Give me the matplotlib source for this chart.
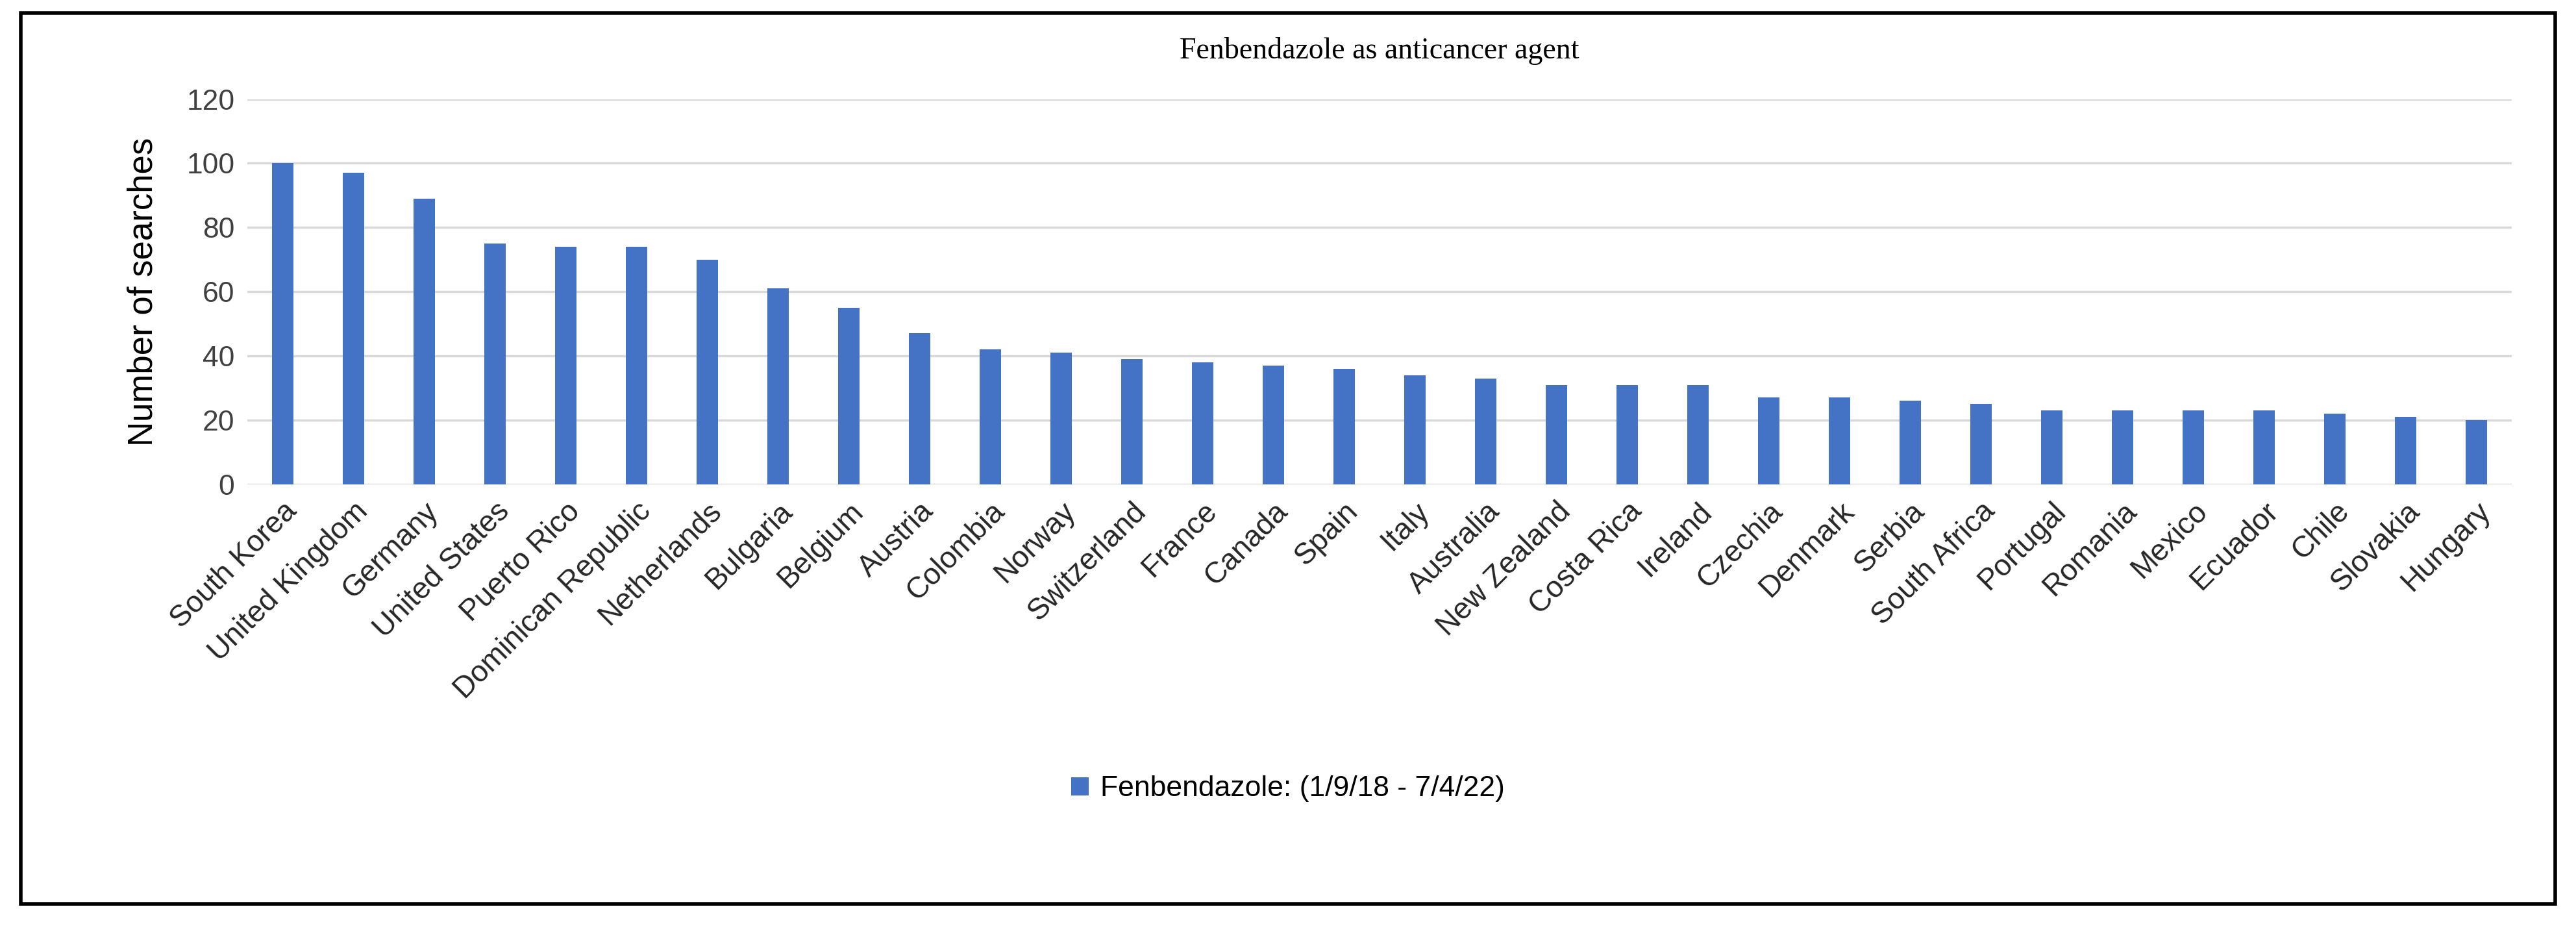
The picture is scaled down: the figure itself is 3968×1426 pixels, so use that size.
import numpy as np
import matplotlib.pyplot as plt
import matplotlib.patches as mpatches

countries = ["South Korea", "United Kingdom", "Germany", "United States", "Puerto Rico",
             "Dominican Republic", "Netherlands", "Bulgaria", "Belgium", "Austria",
             "Colombia", "Norway", "Switzerland", "France", "Canada", "Spain", "Italy",
             "Australia", "New Zealand", "Costa Rica", "Ireland", "Czechia", "Denmark",
             "Serbia", "South Africa", "Portugal", "Romania", "Mexico", "Ecuador",
             "Chile", "Slovakia", "Hungary"]
searches = [100, 97, 89, 75, 74, 74, 70, 61, 55, 47, 42, 41, 39, 38, 37, 36, 34,
            33, 31, 31, 31, 27, 27, 26, 25, 23, 23, 23, 23, 22, 21, 20]
yticks = [0, 20, 40, 60, 80, 100, 120]

BLUE = "#4472C4"
FONT = "Liberation Sans"

fig = plt.figure(figsize=(39.68, 14.26), dpi=100)
ax = fig.add_axes([0.096, 0.477, 0.879, 0.416])

x = np.arange(len(countries))
ax.bar(x, searches, width=0.3, color=BLUE, label="Fenbendazole: (1/9/18 - 7/4/22)", zorder=3)

ax.set_xlim(-0.5, len(countries) - 0.5)
ax.set_ylim(0, 120)
ax.set_yticks(yticks)
ax.set_yticklabels([str(v) for v in yticks], fontsize=32, color="#404040", family=FONT)
ax.set_xticks(x)
ax.set_xticklabels(countries, rotation=45, ha="right", rotation_mode="anchor",
                   fontsize=33, color="#262626", family=FONT)
ax.tick_params(length=0, pad=14)
ax.grid(axis="y", color="#D9D9D9", lw=2.5, zorder=0)
for s in ax.spines.values():
    s.set_visible(False)

ax.set_ylabel("Number of searches", fontsize=38, family=FONT, labelpad=30)
ax.set_title("Fenbendazole as anticancer agent", fontsize=33, family="Liberation Serif", pad=45)

fig.legend(loc="center", bbox_to_anchor=(0.5, 0.148), frameon=False,
           prop={"family": FONT, "size": 32}, handlelength=0.6, handleheight=0.6,
           handletextpad=0.4)

fig.patches.append(mpatches.Rectangle((0.008, 0.024), 0.984, 0.962, transform=fig.transFigure,
                                      fill=False, edgecolor="black", lw=4))

fig.savefig("out.png", dpi=100)
